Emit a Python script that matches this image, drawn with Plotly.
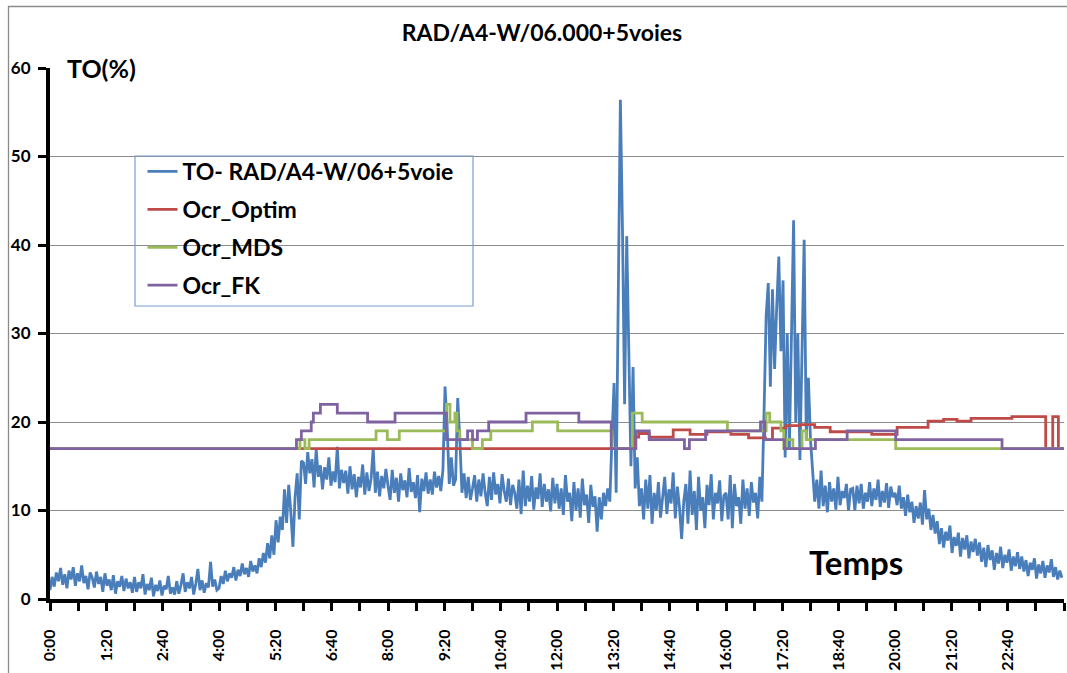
import plotly.graph_objects as go

# ---------------- data ----------------
title_text = "RAD/A4-W/06.000+5voies"
series_names = ["TO- RAD/A4-W/06+5voie", "Ocr_Optim", "Ocr_MDS", "Ocr_FK"]

# blue series: one row per hour, one value every 3 minutes (20 per row)
step_min = 3
to_hourly = [
    [1.0, 2.5, 1.4, 3.0, 2.0, 3.5, 1.6, 2.8, 1.2, 3.2, 2.2, 3.6, 1.5, 2.9, 2.0, 3.8, 1.8, 2.6, 1.1, 3.0],          # 0h
    [2.4, 1.3, 3.1, 1.7, 2.5, 0.8, 2.9, 1.5, 2.2, 1.0, 2.7, 0.6, 2.0, 1.4, 2.6, 0.9, 2.3, 1.2, 1.9, 0.7],          # 1h
    [2.5, 0.8, 1.9, 1.2, 2.8, 0.5, 1.7, 1.0, 2.4, 0.3, 1.6, 0.9, 2.1, 0.4, 1.5, 1.1, 2.6, 0.6, 1.3, 0.5],          # 2h
    [2.0, 0.6, 1.6, 2.9, 0.8, 1.9, 1.2, 2.5, 0.5, 1.7, 3.4, 1.0, 2.1, 0.7, 1.8, 1.3, 4.2, 1.4, 2.2, 1.0],          # 3h
    [1.2, 2.6, 1.7, 3.2, 2.0, 2.9, 2.4, 3.6, 2.1, 3.3, 2.6, 4.0, 2.8, 3.5, 2.5, 4.3, 3.1, 3.8, 2.9, 4.6],          # 4h
    [3.6, 5.2, 4.1, 6.3, 4.6, 7.2, 5.0, 8.9, 6.4, 9.3, 7.8, 12.4, 8.6, 12.9, 9.8, 5.9, 11.5, 14.2, 9.0, 15.6],     # 5h
    [15.4, 13.0, 16.6, 14.2, 15.8, 12.6, 16.9, 13.8, 15.1, 12.4, 14.9, 13.5, 16.0, 12.8, 14.4, 13.2, 17.2, 12.5, 14.6, 13.1],  # 6h
    [14.5, 11.9, 15.0, 12.4, 14.1, 11.5, 13.8, 12.6, 15.2, 11.8, 14.3, 12.2, 13.6, 17.0, 12.0, 14.4, 11.6, 13.9, 12.5, 14.7],  # 7h
    [12.8, 11.2, 14.6, 12.0, 13.7, 11.0, 14.2, 12.3, 13.4, 11.5, 14.8, 12.1, 13.2, 11.4, 14.0, 9.8, 13.6, 12.2, 14.3, 11.9],   # 8h
    [13.5, 11.8, 14.4, 12.6, 13.9, 12.2, 14.6, 24.0, 19.5, 13.0, 16.0, 12.8, 13.5, 22.7, 18.0, 12.0, 14.2, 11.4, 13.8, 11.2],  # 9h
    [12.5, 14.0, 11.0, 13.5, 11.6, 14.2, 12.0, 10.5, 13.8, 11.2, 14.3, 11.8, 13.0, 10.8, 14.1, 12.2, 11.0, 13.6, 10.6, 12.9],  # 10h
    [12.0, 10.2, 13.5, 9.6, 14.5, 10.5, 12.8, 11.0, 13.9, 10.1, 12.6, 11.3, 14.2, 10.4, 13.0, 11.0, 12.4, 9.9, 13.7, 10.8],    # 11h
    [13.0, 10.2, 12.5, 9.5, 14.0, 11.0, 12.0, 8.8, 13.2, 10.0, 12.5, 9.2, 13.6, 10.6, 11.8, 8.6, 12.9, 10.4, 11.6, 7.6],       # 12h
    [11.5, 9.0, 12.0, 10.5, 12.5, 11.0, 18.0, 24.4, 12.0, 35.0, 56.4, 41.7, 22.0, 41.0, 28.0, 15.0, 26.2, 12.5, 16.0, 10.5],   # 13h
    [12.5, 9.0, 13.5, 10.2, 14.0, 8.5, 12.0, 10.0, 13.2, 9.2, 11.5, 13.8, 9.6, 12.4, 10.8, 14.3, 9.1, 12.7, 10.3, 6.8],        # 14h
    [11.0, 13.0, 8.5, 14.5, 9.5, 12.2, 7.8, 13.8, 10.0, 11.5, 8.0, 12.9, 10.6, 14.1, 9.0, 12.0, 10.8, 13.4, 8.8, 11.7],        # 15h
    [12.0, 9.0, 14.0, 8.0, 13.0, 10.5, 11.5, 8.5, 13.5, 10.2, 12.5, 9.4, 13.2, 10.9, 12.0, 9.1, 13.8, 11.0, 21.0, 32.0],       # 16h
    [35.7, 24.0, 35.0, 26.0, 33.0, 38.7, 28.0, 36.0, 16.0, 30.0, 17.0, 32.3, 42.8, 20.0, 30.0, 15.7, 28.0, 40.6, 18.0, 25.0],  # 17h
    [18.0, 14.2, 11.0, 13.5, 10.2, 14.5, 10.5, 12.8, 9.8, 13.2, 11.0, 12.5, 10.1, 13.8, 10.6, 12.2, 11.4, 13.0, 10.0, 12.4],   # 18h
    [12.5, 10.0, 12.8, 10.8, 13.0, 10.2, 12.0, 11.0, 13.2, 10.5, 12.5, 11.2, 13.5, 10.4, 12.2, 10.9, 13.1, 10.3, 12.7, 11.5],  # 19h
    [12.0, 10.6, 12.8, 10.2, 11.5, 9.4, 11.8, 9.8, 11.0, 8.6, 10.5, 9.1, 10.9, 8.4, 12.3, 9.0, 10.2, 7.8, 9.5, 7.4],           # 20h
    [8.8, 6.2, 8.0, 5.8, 7.6, 6.6, 8.3, 5.2, 7.0, 6.0, 7.5, 4.8, 6.9, 5.6, 7.2, 4.6, 6.5, 5.3, 6.8, 4.9],                     # 21h
    [6.4, 4.2, 5.8, 3.6, 6.1, 4.4, 5.5, 3.3, 5.2, 4.0, 5.9, 3.5, 5.0, 4.1, 5.6, 3.2, 4.8, 3.7, 5.3, 3.4],                     # 22h
    [4.8, 3.1, 4.4, 2.6, 4.1, 3.3, 4.6, 2.3, 3.9, 2.9, 4.3, 2.4, 3.8, 3.0, 4.5, 2.5, 3.6, 2.2, 3.2, 2.4],                     # 23h
]

# step series: (minute of change, new value)
optim_minutes = [0, 829, 836, 851, 885, 909, 933, 967, 992, 1016, 1026, 1045, 1065, 1086,
                 1108, 1167, 1203, 1247, 1269, 1288, 1308, 1366, 1414, 1424, 1432, 1440]
optim_values = [17, 18.3, 18.7, 18.3, 19.1, 18.6, 18.9, 18.6, 18.2, 18.0, 19.3, 19.6, 19.7, 19.4,
                18.9, 18.6, 19.4, 20.1, 20.3, 20.1, 20.4, 20.6, 17, 20.6, 17, 17]

mds_minutes = [0, 355, 362, 368, 463, 479, 496, 563, 568, 575, 578, 582, 600, 614, 626, 685,
               721, 798, 827, 841, 962, 1017, 1022, 1038, 1042, 1046, 1055, 1068, 1074, 1201, 1440]
mds_values = [17, 18, 17, 18, 19, 18, 19, 22, 20, 21, 19, 18, 17, 18, 19, 20,
              19, 17, 21, 20, 19, 21, 20, 19, 17, 18, 17, 19, 18, 17, 17]

fk_minutes = [0, 350, 357, 371, 374, 384, 408, 451, 490, 563, 593, 600, 607, 623, 676, 751,
              797, 832, 851, 901, 908, 931, 1009, 1015, 1043, 1087, 1132, 1201, 1352, 1440]
fk_values = [17, 18, 19, 20, 21, 22, 21, 20, 21, 18, 19, 18, 19, 20, 21, 20,
             17, 19, 18, 17, 18, 19, 20, 18, 17, 18, 19, 18, 17, 17]

tick_labels = ["0:00", "1:20", "2:40", "4:00", "5:20", "6:40", "8:00", "9:20", "10:40",
               "12:00", "13:20", "14:40", "16:00", "17:20", "18:40", "20:00", "21:20", "22:40"]
y_ticks = [0, 10, 20, 30, 40, 50, 60]
label_step_min = 80
minor_step_min = 40
day_minutes = 1440

# flatten the hourly rows into (minute, value) pairs
to_minutes, to_values = [], []
for h, row in enumerate(to_hourly):
    for j, v in enumerate(row):
        to_minutes.append(h * 60 + j * step_min)
        to_values.append(v)

# ---------------- styling ----------------
FONT = "Lato"
colors = ["#4A7EBB", "#BE4B48", "#9BBB59", "#7F63A1"]

fig = go.Figure()
fig.add_trace(go.Scatter(x=to_minutes, y=to_values, mode="lines", name=series_names[0],
                         line=dict(color=colors[0], width=2.8), legendgroup="a"))
fig.add_trace(go.Scatter(x=optim_minutes, y=optim_values, mode="lines", name=series_names[1],
                         line=dict(color=colors[1], width=2.8, shape="hv"), legendgroup="b"))
fig.add_trace(go.Scatter(x=mds_minutes, y=mds_values, mode="lines", name=series_names[2],
                         line=dict(color=colors[2], width=2.8, shape="hv"), legendgroup="c"))
fig.add_trace(go.Scatter(x=fk_minutes, y=fk_values, mode="lines", name=series_names[3],
                         line=dict(color=colors[3], width=2.8, shape="hv"), legendgroup="d"))

# tick positions every 40 min, labels every 80 min
tickvals = list(range(0, day_minutes + 1, minor_step_min))
ticktext = []
for v in tickvals:
    if v % label_step_min == 0 and v // label_step_min < len(tick_labels):
        ticktext.append("<b>" + tick_labels[v // label_step_min] + "</b>")
    else:
        ticktext.append("")

W, H = 1067, 673
L, R, T, B = 50, 3, 68, 74
pw, ph = W - L - R, H - T - B


def px_x(x):
    return (x - L) / pw


def px_y(y):
    return (H - B - y) / ph


fig.update_layout(
    width=W, height=H,
    margin=dict(l=L, r=R, t=T, b=B, pad=0, autoexpand=False),
    paper_bgcolor="white", plot_bgcolor="white",
    font=dict(family=FONT, color="black"),
    title=dict(text="<b>" + title_text + "</b>", x=542 / W, xanchor="center",
               y=1 - 33 / H, yanchor="middle", xref="container", yref="container",
               automargin=False,
               font=dict(family=FONT, size=23, color="black")),
    showlegend=True,
    legend=dict(x=px_x(142.5), y=px_y(150), xanchor="left", yanchor="top",
                bgcolor="rgba(0,0,0,0)", borderwidth=0,
                font=dict(family=FONT, size=23, weight="bold", color="black"),
                traceorder="grouped", tracegroupgap=5, itemwidth=30),
    xaxis=dict(range=[0, day_minutes], tickmode="array", tickvals=tickvals, ticktext=ticktext,
               tickangle=-90, ticks="outside", ticklen=8, tickwidth=3, tickcolor="black",
               showline=True, linecolor="black", linewidth=4, showgrid=False, zeroline=False,
               ticklabelstandoff=12, automargin=False,
               tickfont=dict(family=FONT, size=16, color="black")),
    yaxis=dict(range=[0, 60], tickmode="array", tickvals=y_ticks,
               ticktext=["<b>%d</b>" % v for v in y_ticks],
               ticks="outside", ticklen=8, tickwidth=3,
               tickcolor="black", showline=True, linecolor="black", linewidth=4,
               showgrid=True, gridcolor="#8C8C8C", gridwidth=1, zeroline=False,
               ticklabelstandoff=4, automargin=False,
               tickfont=dict(family=FONT, size=17, color="black")),
    annotations=[
        dict(text="<b>TO(%)</b>", xref="paper", yref="paper", x=px_x(101), y=px_y(68),
             xanchor="center", yanchor="middle", showarrow=False,
             font=dict(family=FONT, size=25, color="black")),
        dict(text="<b>Temps</b>", xref="paper", yref="paper", x=px_x(856), y=px_y(562),
             xanchor="center", yanchor="middle", showarrow=False,
             font=dict(family=FONT, size=33, color="black")),
    ],
    shapes=[
        # legend frame
        dict(type="rect", xref="paper", yref="paper", x0=px_x(135), x1=px_x(473),
             y0=px_y(306), y1=px_y(156), line=dict(color="#7A9BD0", width=1.2),
             fillcolor="rgba(0,0,0,0)", layer="above"),
        # chart-area border
        dict(type="rect", xref="paper", yref="paper", x0=px_x(8.5), x1=px_x(1075),
             y0=px_y(720), y1=px_y(6.5), line=dict(color="#8A8A8A", width=1.3),
             fillcolor="rgba(0,0,0,0)", layer="above"),
    ],
)

fig.write_html("out.html", config={"displayModeBar": False},
               post_script="document.body.style.margin='0px';")
